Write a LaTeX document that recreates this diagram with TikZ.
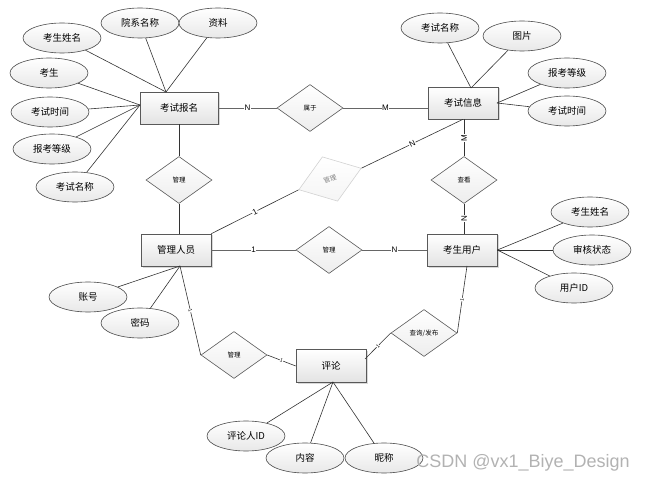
\documentclass[tikz,border=0pt]{standalone}
\usepackage{fontspec}
\newfontfamily\cjk{Noto Sans CJK SC}
\setsansfont{Liberation Sans}
\usetikzlibrary{shapes.geometric, shadows}
\tikzset{
  every picture/.style={line width=0.6pt},
  ent/.style={draw=gray!70!black, top color=white, bottom color=gray!22, minimum width=70pt, minimum height=32pt,
    inner sep=2pt, font=\cjk\fontsize{9.5}{10}\selectfont,
    drop shadow={shadow xshift=1.5pt, shadow yshift=-1.5pt, fill=gray!50, opacity=.6}},
  attr/.style={ellipse, draw=gray!60!black, top color=white, bottom color=gray!18, minimum width=78pt, minimum height=30pt,
    inner sep=0pt, font=\cjk\fontsize{9.5}{10}\selectfont},
  rel/.style={diamond, draw=gray!70!black, top color=white, bottom color=gray!14, minimum width=66pt, minimum height=47pt,
    inner sep=0pt, font=\cjk\fontsize{6.5}{7}\selectfont},
  link/.style={draw=black!80},
  card/.style={fill=white, inner sep=0.6pt, font=\sffamily\fontsize{8}{8}\selectfont},
  tick/.style={fill=white, inner sep=0.3pt, sloped, font=\sffamily\fontsize{5}{5}\selectfont},
}

\begin{document}
\begin{tikzpicture}[x=1pt, y=-1pt]
  \useasboundingbox (0,0) rectangle (646,484);
  % entities
  \node[ent, minimum width=78pt] (bm) at (179,108) {考试报名};
  \node[ent] (xx) at (463,103) {考试信息};
  \node[ent] (ma) at (176,250) {管理人员};
  \node[ent] (ku) at (462,250) {考生用户};
  \node[ent, minimum height=33pt] (pl) at (331,366) {评论};
  % relations
  \node[rel] (r1) at (310,108) {属于};
  \node[rel] (r2) at (179,180) {管理};
  \node[rel] (r3) at (464,180) {查看};
  \node[rel] (r4) at (329,250) {管理};
  \node[rel] (r5) at (234,355) {管理};
  \node[rel] (r6) at (424,333) {查询/发布};
  \node[rel, draw=gray!35, text=gray, top color=white, bottom color=gray!8, rotate=19] (r7) at (330,179) {管理};
  % meeting points
  \coordinate (bmt) at (166,92);
  \coordinate (bml) at (140,105);
  \coordinate (xxt) at (471,88);
  \coordinate (xxr) at (497,103);
  \coordinate (mab) at (180,266);
  \coordinate (kub) at (467,266);
  \coordinate (plr) at (365,359);
  \coordinate (plb) at (333,382);
  % attributes
  \foreach \t/\x/\y [count=\k] in {考生姓名/62/38, 院系名称/140/23, 资料/218/23} {
    \node[attr] (bt\k) at (\x,\y) {\t};
    \draw[link] (bt\k) -- (bmt);
  }
  \foreach \t/\x/\y [count=\k] in {考生/49/73, 考试时间/50/112, 报考等级/52/149, 考试名称/75/187} {
    \node[attr] (bl\k) at (\x,\y) {\t};
    \draw[link] (bl\k) -- (bml);
  }
  \foreach \t/\x/\y [count=\k] in {考试名称/440/28, 图片/522/36} {
    \node[attr] (xt\k) at (\x,\y) {\t};
    \draw[link] (xt\k) -- (xxt);
  }
  \foreach \t/\x/\y [count=\k] in {报考等级/567/73, 考试时间/567/111} {
    \node[attr] (xr\k) at (\x,\y) {\t};
    \draw[link] (xr\k) -- (xxr);
  }
  \foreach \t/\x/\y [count=\k] in {考生姓名/590/212, 审核状态/592/250, 用户ID/574/288} {
    \node[attr] (ka\k) at (\x,\y) {\t};
    \draw[link] (ka\k) -- (ku.east);
  }
  \foreach \t/\x/\y [count=\k] in {账号/88/297, 密码/140/323} {
    \node[attr] (mt\k) at (\x,\y) {\t};
    \draw[link] (mt\k) -- (mab);
  }
  \foreach \t/\x/\y [count=\k] in {评论人ID/246/436, 内容/305/458, 昵称/384/458} {
    \node[attr] (pa\k) at (\x,\y) {\t};
    \draw[link] (pa\k) -- (plb);
  }
  % connectors
  \draw[link, draw=gray!80!black] (bm.east) -- node[card] {N} (r1.west);
  \draw[link, draw=gray!80!black] (r1.east) -- node[card] {M} (r1.east -| xx.west);
  \draw[link] (r2.north |- bm.south) -- (r2.north);
  \draw[link] (r2.south) -- (r2.south |- ma.north);
  \draw[link] (r3.north |- xx.south) -- node[card, rotate=90] {M} (r3.north);
  \draw[link] (r3.south) -- node[card, rotate=90] {N} (r3.south |- ku.north);
  \draw[link, draw=gray!80!black] (ma.east) -- node[card] {1} (r4.west);
  \draw[link, draw=gray!80!black] (r4.east) -- node[card] {N} (ku.west);
  \draw[link] (ma.north east) -- node[card, sloped] {1} (r7.west);
  \draw[link] (r7.east) -- node[card, sloped] {N} (xx.south);
  \draw[link] (mab) -- node[tick] {1} (r5.west);
  \draw[link] (r5.east) -- node[tick] {1} (pl.west);
  \draw[link] (kub) -- node[tick] {1} (r6.east);
  \draw[link] (r6.west) -- node[tick] {1} (plr);
  % watermark
  \node[font=\sffamily\fontsize{18}{18}\selectfont, text=gray!60] (wm) at (523,463) {CSDN @vx1\_Biye\_Design};
\end{tikzpicture}
\end{document}
